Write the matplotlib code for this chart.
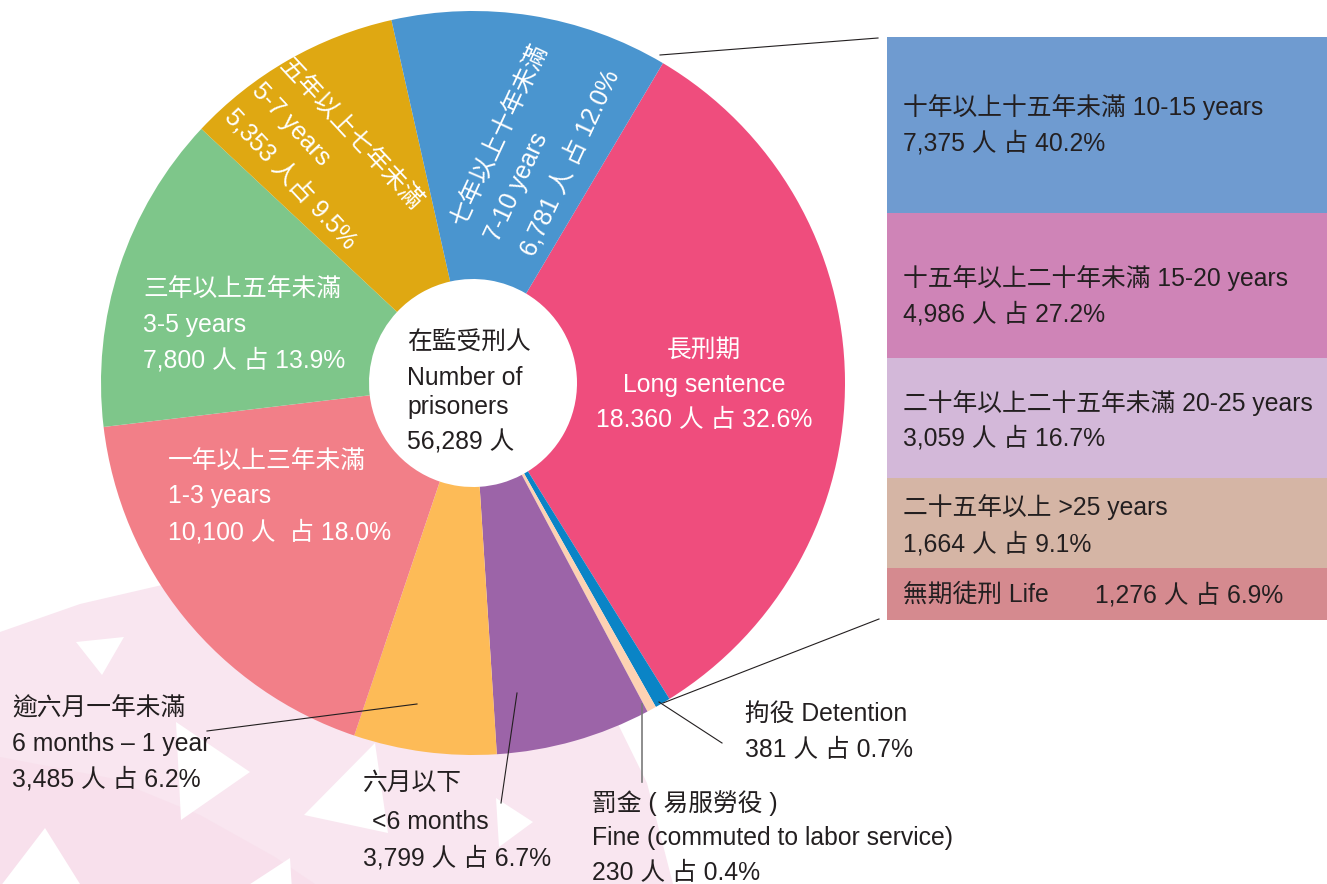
import numpy as np
import matplotlib.pyplot as plt
from matplotlib.patches import Polygon, Rectangle

W, H = 1327, 884

# pie data (clockwise from the long-sentence slice)
categories = ['長刑期', '拘役', '罰金', '六月以下', '逾六月一年未滿',
              '一年以上三年未滿', '三年以上五年未滿', '五年以上七年未滿', '七年以上十年未滿']
counts = [18360, 381, 230, 3799, 3485, 10100, 7800, 5353, 6781]
pie_colors = ['#EF4D7D', '#0A84C6', '#FDD2B3', '#9C64A8', '#FDBB57',
              '#F27F88', '#7EC68A', '#DFA812', '#4A95CF']

# long-sentence breakdown
long_labels = ['十年以上十五年未滿 10-15 years', '十五年以上二十年未滿 15-20 years',
               '二十年以上二十五年未滿 20-25 years', '二十五年以上 >25 years', '無期徒刑 Life']
long_counts = [7375, 4986, 3059, 1664, 1276]
long_pcts = [40.2, 27.2, 16.7, 9.1, 6.9]
long_colors = ['#6F9BD0', '#CF84B7', '#D3B8D9', '#D5B5A5', '#D58A8F']

total = 56289

FONT = ['Liberation Sans', 'Noto Sans CJK TC']
FS = 17.8
DARK = '#231F20'

fig = plt.figure(figsize=(W / 100, H / 100), dpi=100)
ax = fig.add_axes([0, 0, 1, 1])


def Y(y):
    return H - y


def pts(lst):
    return [(x, Y(y)) for x, y in lst]


# background decoration
bg = Polygon(pts([(0, 632), (80, 604), (162, 585), (400, 650), (616, 720), (647, 783),
                  (673, 884), (0, 884)]), closed=True, fc='#F9E6F0', ec='none', zorder=0)
ax.add_patch(bg)
bg2 = Polygon(pts([(0, 757), (110, 778), (200, 815), (275, 857), (315, 884), (0, 884)]),
              closed=True, fc='#F8E0EC', ec='none', zorder=0.2)
ax.add_patch(bg2)
tris = [
    [(76, 642), (124, 637), (102, 675)],
    [(176, 722), (250, 772), (181, 820)],
    [(375, 743), (304, 815), (388, 833)],
    [(496, 798), (533, 822), (499, 847)],
    [(45, 828), (-10, 900), (90, 900)],
    [(290, 858), (241, 890), (292, 890)],
]
for t in tris:
    ax.add_patch(Polygon(pts(t), closed=True, fc='white', ec='none', zorder=0.5))

# donut
cx, cy, R, r_in = 473, 383, 372, 104
wedges, _ = ax.pie(counts, colors=pie_colors, startangle=59.3, counterclock=False,
                   center=(cx, Y(cy)), radius=R,
                   wedgeprops=dict(width=R - r_in, linewidth=0))
for w in wedges:
    w.set_zorder(1)

# right boxes
box_tops = [37, 213, 358, 478, 568]
box_bottom = 620
box_x0, box_x1 = 887, 1327
for i, c in enumerate(long_colors):
    top = box_tops[i]
    bot = box_tops[i + 1] if i + 1 < len(box_tops) else box_bottom
    ax.add_patch(Rectangle((box_x0, Y(bot)), box_x1 - box_x0, bot - top,
                           fc=c, ec='none', zorder=1))

# box texts
box_line_y = [(107, 143), (278, 314), (403, 438), (507, 544)]
for i in range(4):
    y1, y2 = box_line_y[i]
    ax.text(903, Y(y1), long_labels[i], fontsize=FS, family=FONT, color=DARK,
            ha='left', va='center', zorder=3)
    ax.text(903, Y(y2), f'{long_counts[i]:,} 人 占 {long_pcts[i]}%', fontsize=FS,
            family=FONT, color=DARK, ha='left', va='center', zorder=3)
ax.text(903, Y(595), long_labels[4], fontsize=FS, family=FONT, color=DARK,
        ha='left', va='center', zorder=3)
ax.text(1095, Y(595), f'{long_counts[4]:,} 人 占 {long_pcts[4]}%', fontsize=FS,
        family=FONT, color=DARK, ha='left', va='center', zorder=3)


def lines(x, ys, texts, color=DARK, ha='left'):
    for yy, s in zip(ys, texts):
        ax.text(x, Y(yy), s, fontsize=FS, family=FONT, color=color,
                ha=ha, va='center', zorder=3)


# centre
lines(407, [343, 378, 407, 442], ['在監受刑人', 'Number of', 'prisoners', f'{total:,} 人'])

# inside labels
lines(704, [350, 385, 420], ['長刑期', 'Long sentence', '18.360 人 占 32.6%'],
      color='white', ha='center')
lines(143, [289, 325, 360], ['三年以上五年未滿', '3-5 years', '7,800 人 占 13.9%'], color='white')
lines(168, [461, 496, 532], ['一年以上三年未滿', '1-3 years', '10,100 人  占 18.0%'], color='white')


def rot_lines(starts, texts, angle):
    for (x, y), s in zip(starts, texts):
        ax.text(x, Y(y), s, fontsize=FS, family=FONT, color='white', rotation=angle,
                rotation_mode='anchor', ha='left', va='center', zorder=3)


rot_lines([(283, 62), (256, 87), (229, 113)],
          ['五年以上七年未滿', '5-7 years', '5,353 人占 9.5%'], -47)
rot_lines([(458, 224), (492, 240), (527, 254)],
          ['七年以上十年未滿', '7-10 years', '6,781 人 占 12.0%'], 65)

# outside labels
lines(12, [708, 744, 779], ['逾六月一年未滿', '6 months – 1 year', '3,485 人 占 6.2%'])
lines(363, [783, 858], ['六月以下', '3,799 人 占 6.7%'])
lines(372, [822], ['<6 months'])
lines(592, [803, 838, 873], ['罰金 ( 易服勞役 )', 'Fine (commuted to labor service)',
                             '230 人 占 0.4%'])
lines(745, [714, 750], ['拘役 Detention', '381 人 占 0.7%'])

# leader lines
lk = dict(color='#231F20', lw=0.8, zorder=2)
ax.plot([417, 207], [Y(704), Y(731)], **lk)
ax.plot([517, 501], [Y(693), Y(803)], **lk)
ax.plot([659, 722], [Y(702), Y(743)], **lk)
ax.plot([642, 642], [Y(704), Y(782)], color='#7A7A7A', lw=1.2, zorder=2)
ax.plot([660, 878], [Y(55), Y(38)], **lk)
ax.plot([663, 879], [Y(703), Y(619)], **lk)

ax.set_xlim(0, W)
ax.set_ylim(0, H)
ax.set_aspect('auto')
ax.axis('off')

fig.savefig('out.png', dpi=100, facecolor='white')
